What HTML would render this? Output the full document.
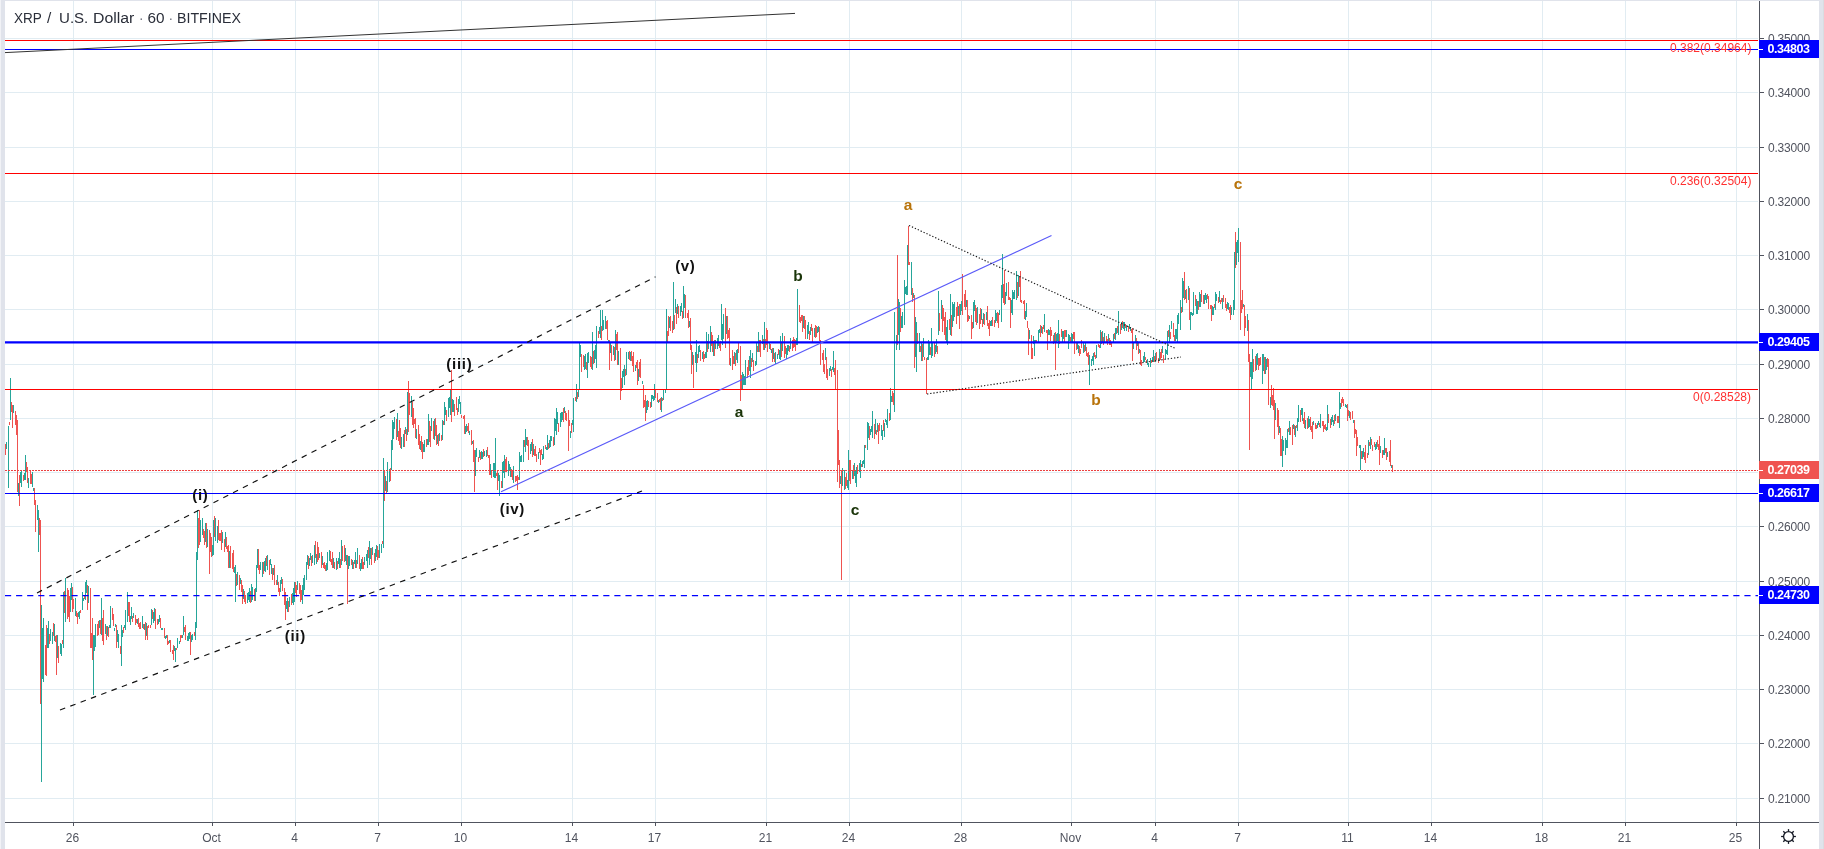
<!DOCTYPE html>
<html><head><meta charset="utf-8"><title>XRPUSD</title>
<style>
html,body{margin:0;padding:0;background:#fff;}
body{width:1824px;height:849px;overflow:hidden;position:relative;font-family:"Liberation Sans",sans-serif;}
#wrap{position:absolute;left:0;top:0;width:1824px;height:849px;overflow:hidden;background:#fff;}
svg{position:absolute;left:0;top:0;}
.bl{position:absolute;background:#e0e3eb;}
.title,.pl,.tl,.pb,.fl,.wl{will-change:transform;}
.title{position:absolute;left:0;top:8.7px;font-size:15.3px;line-height:18px;height:18px;width:300px;color:#2a2e39;white-space:nowrap;}
.title span{position:absolute;top:0;transform-origin:left center;}
.pl{position:absolute;margin-top:1px;left:1768px;width:50px;height:14px;line-height:14px;font-size:12px;color:#50535e;letter-spacing:-0.2px;white-space:nowrap;}
.tl{position:absolute;top:831px;width:61px;text-align:center;height:14px;line-height:14px;font-size:12px;color:#50535e;white-space:nowrap;}
.pb{position:absolute;left:1759px;width:60px;height:18px;line-height:18px;font-size:12.5px;font-weight:bold;color:#fff;box-sizing:border-box;padding-left:8.5px;letter-spacing:-0.45px;white-space:nowrap;}
.pb:before{content:"";position:absolute;left:0;top:8.5px;width:4px;height:1px;background:#fff;}
.fl{position:absolute;right:73px;font-size:12px;line-height:13px;color:#ff3030;white-space:nowrap;text-align:right;}
.wl{position:absolute;width:60px;height:20px;line-height:20px;text-align:center;font-size:15px;font-weight:bold;color:#111;white-space:nowrap;letter-spacing:0.7px;text-indent:0.7px;}
.wl.g{color:#1a3409;font-size:15.5px;letter-spacing:0;text-indent:0;}
.wl.o{color:#b8730a;font-size:15.5px;letter-spacing:0;text-indent:0;}
</style></head>
<body><div id="wrap">
<svg width="1824" height="849" viewBox="0 0 1824 849">
<g shape-rendering="crispEdges" stroke="#e1ecf2" stroke-width="1">
<line x1="73.5" y1="1" x2="73.5" y2="822"/><line x1="212.5" y1="1" x2="212.5" y2="822"/><line x1="295.5" y1="1" x2="295.5" y2="822"/><line x1="378.5" y1="1" x2="378.5" y2="822"/><line x1="461.5" y1="1" x2="461.5" y2="822"/><line x1="572.5" y1="1" x2="572.5" y2="822"/><line x1="655.5" y1="1" x2="655.5" y2="822"/><line x1="766.5" y1="1" x2="766.5" y2="822"/><line x1="849.5" y1="1" x2="849.5" y2="822"/><line x1="961.5" y1="1" x2="961.5" y2="822"/><line x1="1071.5" y1="1" x2="1071.5" y2="822"/><line x1="1155.5" y1="1" x2="1155.5" y2="822"/><line x1="1238.5" y1="1" x2="1238.5" y2="822"/><line x1="1348.5" y1="1" x2="1348.5" y2="822"/><line x1="1431.5" y1="1" x2="1431.5" y2="822"/><line x1="1542.5" y1="1" x2="1542.5" y2="822"/><line x1="1625.5" y1="1" x2="1625.5" y2="822"/><line x1="1736.5" y1="1" x2="1736.5" y2="822"/><line x1="5" y1="38.5" x2="1758" y2="38.5"/><line x1="5" y1="92.5" x2="1758" y2="92.5"/><line x1="5" y1="147.5" x2="1758" y2="147.5"/><line x1="5" y1="201.5" x2="1758" y2="201.5"/><line x1="5" y1="255.5" x2="1758" y2="255.5"/><line x1="5" y1="309.5" x2="1758" y2="309.5"/><line x1="5" y1="364.5" x2="1758" y2="364.5"/><line x1="5" y1="418.5" x2="1758" y2="418.5"/><line x1="5" y1="472.5" x2="1758" y2="472.5"/><line x1="5" y1="526.5" x2="1758" y2="526.5"/><line x1="5" y1="581.5" x2="1758" y2="581.5"/><line x1="5" y1="635.5" x2="1758" y2="635.5"/><line x1="5" y1="689.5" x2="1758" y2="689.5"/><line x1="5" y1="743.5" x2="1758" y2="743.5"/><line x1="5" y1="798.5" x2="1758" y2="798.5"/></g>
<g shape-rendering="crispEdges" fill="none" stroke-width="1">
<path d="M6.5 442V449M8.5 426V488M10.5 378V420M13.5 405V413M18.5 483V496M20.5 472V483M21.5 471V487M24.5 473V480M25.5 455V480M28.5 478V488M32.5 472V487M33.5 488V491M37.5 505V520M38.5 510V552M41.5 605V782M42.5 628V679M43.5 618V682M47.5 628V648M48.5 621V648M50.5 629V641M52.5 632V644M54.5 624V641M57.5 635V658M60.5 643V654M61.5 644V656M63.5 592V648M65.5 578V622M70.5 588V612M71.5 583V600M75.5 598V616M78.5 612V617M79.5 611V619M82.5 592V610M83.5 598V601M85.5 582V600M86.5 580V593M88.5 586V603M93.5 635V695M94.5 635V651M95.5 624V647M99.5 620V628M101.5 598V635M105.5 624V634M107.5 626V636M109.5 625V628M110.5 606V628M114.5 628V631M115.5 624V627M117.5 630V642M118.5 634V648M121.5 625V666M122.5 630V637M124.5 625V628M125.5 610V630M127.5 592V622M130.5 616V625M131.5 607V619M133.5 613V618M137.5 619V624M142.5 616V628M144.5 624V630M146.5 623V636M151.5 609V625M153.5 612V623M154.5 608V621M158.5 619V624M159.5 615V622M161.5 628V630M162.5 628V630M165.5 636V639M166.5 635V638M169.5 640V643M174.5 646V651M175.5 648V662M177.5 638V648M179.5 641V644M182.5 635V638M183.5 616V635M187.5 636V641M188.5 633V641M189.5 632V639M191.5 635V642M192.5 634V640M195.5 622V640M196.5 552V628M197.5 510V560M200.5 520V542M202.5 518V535M205.5 523V542M207.5 529V547M212.5 545V556M213.5 520V555M215.5 518V541M217.5 526V543M222.5 532V543M225.5 532V547M229.5 551V568M234.5 567V573M235.5 565V602M237.5 572V585M240.5 578V584M243.5 589V599M247.5 593V603M248.5 592V600M249.5 588V602M251.5 584V602M252.5 587V600M255.5 588V601M256.5 565V592M257.5 549V568M260.5 562V570M262.5 562V577M264.5 561V571M265.5 558V572M267.5 555V570M270.5 559V565M271.5 564V574M273.5 568V575M277.5 575V585M280.5 580V592M281.5 577V584M286.5 601V609M287.5 598V612M289.5 597V607M292.5 593V603M293.5 588V605M294.5 582V602M297.5 581V590M302.5 585V604M303.5 578V595M304.5 575V590M306.5 562V580M307.5 555V565M309.5 558V566M310.5 553V560M312.5 555V563M314.5 545V565M316.5 554V564M319.5 553V558M322.5 556V565M326.5 563V571M327.5 552V570M329.5 550V561M333.5 558V568M336.5 558V570M338.5 558V564M339.5 552V568M341.5 540V565M345.5 548V561M346.5 555V565M348.5 556V569M349.5 556V566M352.5 560V569M354.5 560V564M355.5 552V568M357.5 548V564M360.5 563V571M361.5 559V569M364.5 557V565M366.5 554V561M367.5 550V568M369.5 541V565M370.5 548V559M372.5 547V555M375.5 549V561M376.5 545V557M379.5 544V558M381.5 544V553M383.5 458V548M385.5 476V491M387.5 462V492M389.5 469V482M391.5 440V470M392.5 420V450M393.5 422V439M394.5 417V429M397.5 413V437M401.5 437V449M403.5 434V447M405.5 427V434M407.5 392V435M411.5 396V417M416.5 429V439M420.5 441V450M423.5 444V452M424.5 440V452M427.5 439V445M428.5 414V445M431.5 418V431M434.5 419V440M437.5 435V444M439.5 433V441M442.5 420V440M444.5 402V425M445.5 407V415M448.5 398V417M449.5 397V408M450.5 390V415M452.5 399V412M453.5 400V412M458.5 399V412M459.5 396V404M460.5 402V414M465.5 426V434M466.5 424V432M469.5 431V435M472.5 441V444M475.5 450V476M476.5 448V457M479.5 450V458M481.5 451V459M482.5 452V459M484.5 451V456M486.5 450V457M490.5 464V475M493.5 463V477M494.5 463V478M495.5 438V478M498.5 473V481M499.5 475V496M502.5 462V488M503.5 461V473M504.5 455V478M508.5 461V476M509.5 464V470M510.5 467V477M513.5 466V483M519.5 452V480M520.5 456V462M521.5 455V462M523.5 440V462M525.5 429V452M526.5 437V445M530.5 444V454M531.5 442V451M533.5 444V455M538.5 452V459M542.5 454V460M543.5 446V459M546.5 447V450M547.5 435V450M549.5 440V448M550.5 436V447M551.5 436V441M554.5 418V445M555.5 419V431M556.5 408V435M557.5 412V424M560.5 413V427M561.5 412V422M562.5 412V420M564.5 407V413M570.5 431V438M572.5 420V425M573.5 398V432M576.5 384V402M578.5 389V397M579.5 342V390M580.5 345V357M584.5 356V370M585.5 354V369M587.5 353V378M588.5 352V363M592.5 332V370M594.5 350V363M595.5 345V359M596.5 326V368M599.5 327V334M600.5 310V338M602.5 310V331M603.5 320V330M605.5 316V329M608.5 340V343M610.5 343V353M613.5 346V355M615.5 330V360M618.5 351V365M622.5 371V388M623.5 369V377M624.5 365V385M626.5 352V375M628.5 352V359M630.5 352V361M635.5 365V371M638.5 369V381M642.5 381V384M646.5 401V413M647.5 400V410M651.5 395V407M652.5 395V399M653.5 396V401M654.5 384V400M658.5 400V403M661.5 397V412M663.5 390V400M665.5 390V393M666.5 309V390M669.5 317V328M673.5 282V330M675.5 299V313M677.5 304V314M680.5 306V316M681.5 303V312M683.5 286V318M684.5 294V308M689.5 321V327M692.5 352V365M695.5 352V363M696.5 340V372M698.5 346V358M699.5 345V352M702.5 352V359M705.5 352V358M706.5 332V358M708.5 334V349M710.5 326V352M713.5 341V356M715.5 340V349M717.5 338V349M718.5 335V346M721.5 304V340M722.5 324V345M723.5 314V339M726.5 316V334M730.5 358V366M734.5 352V364M736.5 350V360M737.5 349V363M742.5 372V390M743.5 374V385M744.5 376V385M745.5 360V385M749.5 356V371M750.5 350V378M752.5 353V362M755.5 361V366M756.5 342V365M758.5 332V352M762.5 335V344M764.5 322V350M769.5 342V349M771.5 349V353M773.5 348V359M775.5 352V364M777.5 354V359M779.5 350V359M780.5 336V360M782.5 333V351M786.5 348V359M787.5 345V355M788.5 345V351M790.5 338V349M796.5 338V345M797.5 289V345M803.5 316V328M807.5 325V339M808.5 322V334M810.5 327V335M814.5 328V337M817.5 327V333M818.5 326V332M825.5 348V360M829.5 368V376M830.5 366V371M832.5 367V370M833.5 351V372M840.5 476V484M842.5 468V486M844.5 470V490M847.5 480V488M848.5 450V490M852.5 470V479M854.5 463V476M855.5 470V483M856.5 467V487M859.5 463V472M860.5 460V478M862.5 461V467M863.5 460V464M864.5 445V468M867.5 422V450M868.5 423V438M870.5 429V435M871.5 426V432M872.5 411V438M875.5 419V434M877.5 423V432M881.5 425V436M882.5 430V440M884.5 423V437M885.5 419V422M886.5 420V425M887.5 409V428M890.5 388V420M891.5 396V402M894.5 312V412M896.5 335V350M898.5 299V335M899.5 302V350M901.5 316V328M902.5 312V328M904.5 280V325M905.5 287V294M906.5 286V295M907.5 245V295M911.5 262V295M913.5 293V298M915.5 317V357M916.5 322V372M919.5 333V352M921.5 343V361M923.5 338V357M927.5 357V360M928.5 340V360M929.5 342V355M931.5 328V358M932.5 342V356M935.5 345V354M936.5 339V352M938.5 291V335M941.5 300V319M946.5 327V343M947.5 320V345M950.5 294V335M952.5 302V327M953.5 304V321M954.5 302V317M958.5 306V316M960.5 304V315M961.5 301V311M966.5 300V307M969.5 316V319M973.5 302V328M974.5 300V311M977.5 307V323M981.5 309V320M983.5 313V324M986.5 312V320M990.5 321V326M991.5 320V326M995.5 310V323M996.5 313V321M999.5 310V315M1001.5 285V322M1002.5 254V298M1005.5 292V304M1006.5 283V296M1011.5 300V313M1012.5 290V315M1013.5 292V299M1014.5 290V299M1016.5 271V300M1018.5 275V296M1025.5 311V320M1026.5 303V317M1029.5 330V339M1033.5 336V344M1034.5 340V356M1035.5 340V343M1038.5 330V342M1039.5 329V333M1041.5 326V333M1044.5 314V332M1048.5 329V335M1049.5 330V335M1054.5 333V342M1056.5 334V343M1057.5 333V341M1058.5 320V348M1062.5 331V342M1063.5 331V339M1066.5 330V337M1068.5 334V349M1069.5 335V341M1071.5 333V342M1072.5 334V342M1077.5 342V349M1078.5 345V353M1083.5 343V353M1085.5 343V351M1089.5 355V385M1091.5 359V366M1092.5 356V361M1093.5 353V365M1096.5 345V358M1100.5 330V348M1102.5 331V343M1104.5 333V342M1108.5 334V341M1113.5 334V343M1115.5 328V340M1116.5 328V334M1118.5 311V335M1121.5 322V330M1123.5 322V329M1124.5 322V331M1126.5 325V331M1129.5 324V329M1130.5 327V331M1133.5 343V349M1135.5 335V343M1137.5 341V346M1139.5 349V353M1143.5 356V362M1144.5 352V362M1147.5 359V365M1148.5 363V367M1150.5 358V367M1152.5 357V361M1153.5 350V362M1155.5 353V362M1159.5 349V361M1162.5 346V353M1165.5 349V359M1166.5 350V354M1167.5 331V355M1169.5 325V342M1171.5 321V329M1175.5 329V341M1176.5 329V339M1177.5 315V342M1178.5 313V324M1180.5 300V330M1182.5 278V312M1183.5 281V298M1185.5 290V299M1188.5 286V300M1190.5 312V330M1191.5 312V315M1192.5 313V316M1193.5 292V315M1196.5 299V314M1197.5 301V314M1199.5 292V307M1200.5 294V307M1204.5 295V304M1205.5 293V300M1206.5 295V303M1212.5 306V315M1213.5 307V315M1215.5 292V310M1216.5 294V301M1219.5 291V302M1222.5 298V309M1227.5 302V309M1228.5 303V310M1231.5 307V315M1233.5 300V315M1234.5 252V310M1236.5 242V265M1237.5 240V253M1238.5 228V262M1243.5 304V307M1247.5 314V331M1250.5 362V377M1251.5 362V390M1252.5 349V379M1256.5 354V370M1257.5 353V365M1262.5 354V384M1263.5 354V371M1265.5 357V374M1266.5 359V370M1270.5 397V408M1275.5 403V420M1279.5 426V433M1282.5 436V467M1283.5 440V451M1285.5 438V455M1286.5 440V448M1287.5 429V448M1289.5 421V435M1293.5 424V429M1295.5 426V437M1297.5 418V431M1298.5 405V422M1301.5 408V415M1302.5 408V421M1305.5 420V429M1308.5 416V428M1309.5 419V427M1313.5 421V425M1317.5 423V428M1318.5 421V425M1320.5 414V428M1326.5 427V431M1327.5 405V430M1331.5 417V425M1332.5 415V422M1333.5 420V426M1335.5 414V421M1339.5 392V428M1340.5 403V409M1345.5 404V407M1346.5 405V408M1349.5 411V418M1353.5 420V423M1359.5 445V448M1360.5 445V470M1362.5 451V459M1363.5 448V457M1368.5 440V455M1370.5 437V449M1375.5 444V450M1376.5 442V449M1380.5 446V453M1383.5 450V455M1384.5 438V455M1387.5 452V457M1391.5 465V468" stroke="#26a69a"/>
<path d="M5.5 444V455M9.5 422V425M11.5 402V412M12.5 405V428M15.5 411V425M16.5 415V435M17.5 420V492M19.5 475V506M23.5 475V481M26.5 462V472M27.5 467V483M30.5 471V484M31.5 474V484M34.5 488V505M35.5 500V532M39.5 518V535M40.5 520V704M45.5 645V675M46.5 625V676M49.5 634V644M53.5 623V636M55.5 636V642M56.5 635V675M58.5 646V663M62.5 640V644M64.5 591V613M67.5 588V619M68.5 590V617M69.5 596V622M72.5 587V612M73.5 599V609M76.5 611V617M77.5 613V624M80.5 610V613M84.5 595V599M87.5 585V610M90.5 588V648M91.5 633V648M92.5 618V660M97.5 624V636M98.5 621V635M100.5 620V634M102.5 618V641M103.5 610V645M106.5 626V640M108.5 627V637M112.5 608V620M113.5 614V626M116.5 625V648M120.5 646V654M123.5 627V633M128.5 602V616M129.5 602V622M132.5 616V622M135.5 615V625M136.5 619V623M138.5 618V627M139.5 623V629M140.5 622V629M143.5 624V629M145.5 622V640M147.5 626V640M148.5 625V628M150.5 625V628M152.5 610V619M155.5 609V629M157.5 619V625M160.5 618V628M164.5 628V638M167.5 635V645M168.5 641V644M170.5 640V652M172.5 650V654M173.5 645V660M176.5 648V650M180.5 635V642M181.5 635V638M184.5 627V632M185.5 625V640M190.5 632V655M194.5 632V636M198.5 518V548M199.5 510V545M203.5 529V538M204.5 531V545M206.5 523V548M209.5 530V574M210.5 533V552M211.5 537V557M214.5 516V537M218.5 520V540M219.5 533V541M220.5 533V541M221.5 530V550M224.5 539V552M226.5 537V549M227.5 546V552M228.5 545V568M230.5 546V568M232.5 553V569M233.5 550V572M236.5 574V586M239.5 575V590M241.5 580V592M242.5 585V604M244.5 591V602M245.5 595V604M250.5 591V603M254.5 589V601M258.5 549V570M259.5 565V574M263.5 562V574M266.5 556V566M269.5 560V575M272.5 568V580M274.5 565V585M276.5 580V585M278.5 582V592M279.5 588V596M282.5 579V591M284.5 588V605M285.5 592V620M288.5 601V612M291.5 594V605M295.5 582V593M296.5 585V597M299.5 583V594M300.5 585V602M301.5 590V600M308.5 556V569M311.5 556V566M315.5 541V558M317.5 542V562M318.5 547V560M321.5 552V568M323.5 563V568M324.5 562V569M325.5 565V571M330.5 551V562M331.5 559V565M332.5 552V568M334.5 562V569M337.5 561V569M340.5 559V568M342.5 546V561M344.5 545V562M347.5 555V604M351.5 559V565M353.5 562V569M356.5 560V568M359.5 555V569M362.5 557V569M363.5 562V569M368.5 547V558M371.5 548V565M374.5 553V563M377.5 546V560M378.5 550V558M382.5 541V544M384.5 470V501M386.5 481V494M390.5 468V481M396.5 419V440M398.5 431V441M399.5 420V445M400.5 428V448M404.5 430V447M406.5 429V441M408.5 381V432M409.5 393V415M412.5 402V425M413.5 408V428M414.5 419V424M415.5 418V438M418.5 425V445M419.5 434V449M421.5 436V452M422.5 442V459M426.5 439V447M429.5 421V442M430.5 426V447M433.5 421V439M435.5 418V436M436.5 425V445M438.5 434V446M441.5 435V441M443.5 421V425M446.5 410V421M451.5 370V422M454.5 404V416M456.5 397V410M457.5 408V415M461.5 415V418M463.5 416V419M464.5 415V434M467.5 426V431M468.5 423V433M471.5 430V445M473.5 440V462M474.5 450V492M478.5 457V462M480.5 452V460M483.5 449V457M487.5 447V456M488.5 455V458M489.5 455V475M491.5 470V478M496.5 473V476M497.5 470V490M501.5 481V488M505.5 459V472M506.5 457V472M511.5 469V477M512.5 470V480M515.5 476V482M516.5 476V481M517.5 475V490M518.5 477V480M524.5 440V447M527.5 437V446M528.5 440V460M532.5 439V457M534.5 449V456M535.5 446V456M536.5 454V462M539.5 448V453M540.5 450V465M541.5 449V455M545.5 445V449M548.5 443V449M553.5 437V446M558.5 423V432M563.5 408V422M565.5 411V420M566.5 413V421M568.5 410V451M569.5 420V426M571.5 423V433M575.5 397V401M577.5 392V399M581.5 354V372M583.5 355V367M586.5 362V370M590.5 356V367M591.5 357V369M593.5 351V364M598.5 331V338M601.5 326V340M606.5 321V329M607.5 320V340M609.5 340V370M611.5 345V361M614.5 347V361M616.5 334V350M617.5 332V365M620.5 348V400M621.5 378V391M625.5 369V376M629.5 351V360M631.5 351V361M632.5 356V366M633.5 352V372M636.5 362V368M637.5 360V385M639.5 362V377M640.5 359V378M643.5 385V408M644.5 400V407M645.5 395V421M648.5 401V407M650.5 402V408M655.5 390V398M657.5 393V402M659.5 399V402M660.5 398V410M662.5 398V401M667.5 331V343M668.5 316V336M670.5 316V331M672.5 321V333M674.5 315V329M676.5 307V324M678.5 306V318M682.5 311V319M685.5 295V318M687.5 313V318M688.5 310V328M690.5 318V350M691.5 345V374M693.5 355V388M697.5 354V363M700.5 350V361M703.5 351V362M704.5 354V359M707.5 341V352M711.5 332V346M712.5 335V352M714.5 340V356M719.5 342V348M720.5 341V351M725.5 308V348M727.5 316V339M728.5 330V338M729.5 328V365M732.5 350V370M733.5 356V364M735.5 353V366M738.5 342V353M740.5 346V401M741.5 375V390M747.5 367V378M748.5 360V375M751.5 358V367M753.5 360V371M757.5 346V352M759.5 340V352M760.5 340V357M763.5 339V350M765.5 339V348M766.5 328V345M767.5 330V352M770.5 344V350M772.5 348V362M774.5 353V362M778.5 349V355M781.5 342V357M784.5 336V358M785.5 346V354M789.5 346V352M792.5 340V351M793.5 337V348M794.5 339V347M795.5 340V351M799.5 305V322M800.5 317V323M801.5 315V321M802.5 315V332M804.5 316V329M805.5 320V339M809.5 331V340M811.5 324V331M812.5 328V342M815.5 325V338M816.5 326V337M819.5 327V341M820.5 340V365M822.5 353V360M823.5 350V372M824.5 364V374M826.5 357V378M827.5 369V380M831.5 369V377M834.5 368V375M835.5 360V390M837.5 370V482M838.5 430V465M839.5 460V488M841.5 470V580M845.5 477V489M846.5 473V486M849.5 460V481M850.5 460V484M853.5 465V479M857.5 465V474M861.5 464V467M865.5 445V448M869.5 426V440M874.5 424V439M876.5 430V435M878.5 425V444M879.5 423V431M883.5 420V431M889.5 413V421M892.5 391V402M893.5 393V405M897.5 255V345M900.5 308V332M908.5 226V265M909.5 262V265M912.5 288V302M914.5 295V368M917.5 333V344M920.5 346V352M922.5 344V361M924.5 357V360M926.5 358V394M930.5 347V355M934.5 342V357M937.5 346V354M939.5 313V331M942.5 305V332M943.5 308V321M944.5 317V335M945.5 312V340M949.5 319V330M951.5 315V336M956.5 307V324M957.5 302V316M959.5 304V329M962.5 274V315M964.5 294V307M965.5 290V310M967.5 300V322M968.5 315V321M971.5 315V339M972.5 322V329M975.5 305V322M976.5 308V325M979.5 314V329M980.5 308V324M982.5 319V327M984.5 314V325M987.5 306V326M988.5 323V329M989.5 320V336M992.5 317V326M994.5 320V327M997.5 312V323M998.5 313V328M1003.5 284V303M1004.5 270V305M1008.5 282V300M1009.5 297V300M1010.5 298V328M1017.5 282V298M1019.5 276V287M1020.5 271V302M1021.5 300V303M1023.5 301V304M1024.5 300V319M1027.5 321V328M1028.5 328V355M1031.5 335V359M1032.5 348V359M1036.5 340V343M1040.5 325V337M1042.5 327V334M1043.5 325V329M1046.5 330V333M1047.5 330V350M1050.5 327V341M1051.5 330V336M1053.5 335V344M1055.5 332V370M1059.5 334V344M1061.5 329V337M1064.5 330V342M1065.5 330V337M1070.5 337V343M1073.5 332V339M1074.5 332V354M1076.5 342V350M1079.5 346V356M1080.5 349V354M1081.5 340V348M1084.5 345V352M1086.5 347V356M1087.5 353V357M1088.5 352V365M1094.5 352V357M1095.5 355V359M1098.5 344V347M1099.5 345V348M1101.5 332V344M1103.5 337V345M1106.5 336V343M1107.5 339V345M1109.5 338V345M1110.5 340V345M1111.5 342V347M1114.5 333V339M1117.5 326V333M1120.5 324V334M1122.5 321V328M1125.5 324V328M1128.5 326V332M1131.5 329V333M1132.5 328V361M1136.5 338V350M1138.5 343V354M1140.5 350V365M1141.5 360V366M1145.5 357V360M1146.5 360V363M1151.5 360V363M1154.5 356V362M1156.5 352V360M1158.5 358V363M1160.5 352V360M1161.5 349V358M1163.5 355V363M1168.5 330V337M1170.5 332V339M1173.5 323V337M1174.5 335V341M1181.5 307V313M1184.5 272V300M1186.5 289V303M1189.5 288V320M1195.5 295V306M1198.5 301V310M1201.5 290V302M1203.5 295V304M1207.5 294V299M1208.5 296V309M1210.5 305V309M1211.5 305V321M1214.5 304V308M1218.5 297V303M1220.5 300V304M1221.5 298V302M1223.5 295V302M1225.5 298V308M1226.5 304V311M1229.5 307V313M1230.5 305V320M1235.5 232V268M1240.5 242V330M1241.5 300V313M1242.5 290V309M1244.5 305V336M1245.5 316V328M1248.5 320V362M1249.5 354V450M1253.5 359V372M1255.5 356V371M1258.5 358V370M1259.5 358V366M1260.5 357V365M1264.5 357V374M1267.5 358V367M1268.5 359V405M1271.5 385V405M1272.5 395V406M1273.5 388V410M1274.5 400V439M1277.5 408V427M1278.5 410V435M1280.5 428V456M1281.5 439V456M1288.5 428V432M1290.5 427V435M1292.5 425V445M1294.5 425V435M1296.5 425V428M1300.5 410V422M1303.5 418V424M1304.5 412V428M1307.5 418V429M1310.5 417V430M1311.5 426V432M1312.5 422V439M1315.5 423V429M1316.5 425V429M1319.5 423V427M1322.5 421V426M1323.5 421V432M1324.5 425V429M1325.5 424V430M1328.5 414V423M1330.5 419V428M1334.5 415V424M1337.5 416V423M1338.5 416V423M1341.5 399V407M1342.5 397V403M1343.5 399V406M1347.5 404V421M1348.5 410V416M1350.5 412V420M1352.5 411V419M1354.5 420V438M1355.5 429V434M1356.5 430V456M1357.5 437V446M1361.5 451V459M1364.5 452V460M1365.5 445V463M1367.5 453V458M1369.5 442V446M1371.5 439V445M1372.5 445V451M1374.5 442V447M1377.5 440V447M1378.5 444V450M1379.5 436V465M1382.5 450V458M1385.5 448V453M1386.5 448V460M1389.5 451V462M1390.5 440V466M1392.5 465V472" stroke="#ef5350"/>
</g>
<g shape-rendering="crispEdges">
<line x1="5" y1="40.5" x2="1758" y2="40.5" stroke="#ff0000" stroke-width="1"/><line x1="5" y1="173.5" x2="1758" y2="173.5" stroke="#ff0000" stroke-width="1"/><line x1="5" y1="389.5" x2="1758" y2="389.5" stroke="#ff0000" stroke-width="1"/><line x1="5" y1="49.5" x2="1758" y2="49.5" stroke="#0000ff" stroke-width="1"/><line x1="5" y1="493.5" x2="1758" y2="493.5" stroke="#0000ff" stroke-width="1"/></g>
<line x1="5" y1="342.35" x2="1758" y2="342.35" stroke="#0000ff" stroke-width="2.1"/>
<line x1="5" y1="595.5" x2="1758" y2="595.5" stroke="#0000ff" stroke-width="1.25" stroke-dasharray="6.16 4.919"/>
<line x1="5" y1="470.5" x2="1758" y2="470.5" stroke="#eb4040" stroke-width="1" stroke-dasharray="2 1" shape-rendering="crispEdges"/>
<line x1="5" y1="52.6" x2="795" y2="13.4" stroke="#333" stroke-width="1"/>
<line x1="37" y1="592.9" x2="655.5" y2="276.8" stroke="#111" stroke-width="1.15" stroke-dasharray="5.55 5.46"/>
<line x1="60" y1="710" x2="642" y2="491" stroke="#111" stroke-width="1.15" stroke-dasharray="5.55 5.46"/>
<line x1="501" y1="491.8" x2="1051.5" y2="235.6" stroke="#5a5af8" stroke-width="1.15"/>
<line x1="909" y1="225.5" x2="1175.5" y2="348.5" stroke="#1a1a1a" stroke-width="1.15" stroke-dasharray="1.3 1.9"/>
<line x1="927" y1="394" x2="1181" y2="357" stroke="#1a1a1a" stroke-width="1.15" stroke-dasharray="1.3 1.9"/>
<g shape-rendering="crispEdges" stroke="#50535e" stroke-width="1">
<line x1="1759.5" y1="1" x2="1759.5" y2="849"/><line x1="5" y1="822.5" x2="1819" y2="822.5"/><line x1="73.5" y1="823" x2="73.5" y2="826"/><line x1="212.5" y1="823" x2="212.5" y2="826"/><line x1="295.5" y1="823" x2="295.5" y2="826"/><line x1="378.5" y1="823" x2="378.5" y2="826"/><line x1="461.5" y1="823" x2="461.5" y2="826"/><line x1="572.5" y1="823" x2="572.5" y2="826"/><line x1="655.5" y1="823" x2="655.5" y2="826"/><line x1="766.5" y1="823" x2="766.5" y2="826"/><line x1="849.5" y1="823" x2="849.5" y2="826"/><line x1="961.5" y1="823" x2="961.5" y2="826"/><line x1="1071.5" y1="823" x2="1071.5" y2="826"/><line x1="1155.5" y1="823" x2="1155.5" y2="826"/><line x1="1238.5" y1="823" x2="1238.5" y2="826"/><line x1="1348.5" y1="823" x2="1348.5" y2="826"/><line x1="1431.5" y1="823" x2="1431.5" y2="826"/><line x1="1542.5" y1="823" x2="1542.5" y2="826"/><line x1="1625.5" y1="823" x2="1625.5" y2="826"/><line x1="1736.5" y1="823" x2="1736.5" y2="826"/><line x1="1760" y1="38.5" x2="1764" y2="38.5"/><line x1="1760" y1="92.5" x2="1764" y2="92.5"/><line x1="1760" y1="147.5" x2="1764" y2="147.5"/><line x1="1760" y1="201.5" x2="1764" y2="201.5"/><line x1="1760" y1="255.5" x2="1764" y2="255.5"/><line x1="1760" y1="309.5" x2="1764" y2="309.5"/><line x1="1760" y1="364.5" x2="1764" y2="364.5"/><line x1="1760" y1="418.5" x2="1764" y2="418.5"/><line x1="1760" y1="472.5" x2="1764" y2="472.5"/><line x1="1760" y1="526.5" x2="1764" y2="526.5"/><line x1="1760" y1="581.5" x2="1764" y2="581.5"/><line x1="1760" y1="635.5" x2="1764" y2="635.5"/><line x1="1760" y1="689.5" x2="1764" y2="689.5"/><line x1="1760" y1="743.5" x2="1764" y2="743.5"/><line x1="1760" y1="798.5" x2="1764" y2="798.5"/></g>
<g stroke="#131722" stroke-width="1.3" fill="none"><circle cx="1788.5" cy="836.5" r="4.9"/><line x1="1793.70" y1="836.50" x2="1795.90" y2="836.50"/><line x1="1792.18" y1="840.18" x2="1793.73" y2="841.73"/><line x1="1788.50" y1="841.70" x2="1788.50" y2="843.90"/><line x1="1784.82" y1="840.18" x2="1783.27" y2="841.73"/><line x1="1783.30" y1="836.50" x2="1781.10" y2="836.50"/><line x1="1784.82" y1="832.82" x2="1783.27" y2="831.27"/><line x1="1788.50" y1="831.30" x2="1788.50" y2="829.10"/><line x1="1792.18" y1="832.82" x2="1793.73" y2="831.27"/></g>
</svg>
<div class="bl" style="left:0;top:0;width:5px;height:849px"></div>
<div class="bl" style="left:1819px;top:0;width:5px;height:849px"></div>
<div class="bl" style="left:0;top:0;width:1824px;height:1px"></div>
<div class="bl" style="left:0;top:0;width:1px;height:849px;background:#f1f2f6"></div>
<div class="bl" style="left:1823px;top:0;width:1px;height:849px;background:#d9dce1"></div>
<div class="title"><span style="left:13.8px;transform:scaleX(0.885)">XRP</span><span style="left:47.1px;transform:scaleX(1.000)">/</span><span style="left:58.5px;transform:scaleX(0.985)">U.S.</span><span style="left:93.0px;transform:scaleX(1.035)">Dollar</span><span style="left:138.8px;transform:scaleX(1.000);color:#787b86">&middot;</span><span style="left:147.5px;transform:scaleX(1.000)">60</span><span style="left:168.2px;transform:scaleX(1.000);color:#787b86">&middot;</span><span style="left:176.6px;transform:scaleX(0.928)">BITFINEX</span></div>
<div class="pl" style="top:31px">0.35000</div>
<div class="pl" style="top:85px">0.34000</div>
<div class="pl" style="top:140px">0.33000</div>
<div class="pl" style="top:194px">0.32000</div>
<div class="pl" style="top:248px">0.31000</div>
<div class="pl" style="top:302px">0.30000</div>
<div class="pl" style="top:357px">0.29000</div>
<div class="pl" style="top:411px">0.28000</div>
<div class="pl" style="top:465px">0.27000</div>
<div class="pl" style="top:519px">0.26000</div>
<div class="pl" style="top:574px">0.25000</div>
<div class="pl" style="top:628px">0.24000</div>
<div class="pl" style="top:682px">0.23000</div>
<div class="pl" style="top:736px">0.22000</div>
<div class="pl" style="top:791px">0.21000</div>
<div class="tl" style="left:42.3px">26</div>
<div class="tl" style="left:181.3px">Oct</div>
<div class="tl" style="left:264.3px">4</div>
<div class="tl" style="left:347.3px">7</div>
<div class="tl" style="left:430.3px">10</div>
<div class="tl" style="left:541.3px">14</div>
<div class="tl" style="left:624.3px">17</div>
<div class="tl" style="left:735.3px">21</div>
<div class="tl" style="left:818.3px">24</div>
<div class="tl" style="left:930.3px">28</div>
<div class="tl" style="left:1040.3px">Nov</div>
<div class="tl" style="left:1124.3px">4</div>
<div class="tl" style="left:1207.3px">7</div>
<div class="tl" style="left:1317.3px">11</div>
<div class="tl" style="left:1400.3px">14</div>
<div class="tl" style="left:1511.3px">18</div>
<div class="tl" style="left:1594.3px">21</div>
<div class="tl" style="left:1705.3px">25</div>
<div class="pb" style="top:40px;background:#0000ff">0.34803</div>
<div class="pb" style="top:333px;background:#0000ff">0.29405</div>
<div class="pb" style="top:461px;background:#ef5350">0.27039</div>
<div class="pb" style="top:484px;background:#0000ff">0.26617</div>
<div class="pb" style="top:586px;background:#0000ff">0.24730</div>
<div class="fl" style="top:42px">0.382(0.34964)</div>
<div class="fl" style="top:175px">0.236(0.32504)</div>
<div class="fl" style="top:391px">0(0.28528)</div>
<div class="wl" style="left:170.3px;top:485.0px">(i)</div>
<div class="wl" style="left:264.5px;top:626.0px">(ii)</div>
<div class="wl" style="left:429.2px;top:354.0px">(iii)</div>
<div class="wl" style="left:482.0px;top:498.5px">(iv)</div>
<div class="wl" style="left:655.0px;top:255.5px">(v)</div>
<div class="wl g" style="left:708.8px;top:402.0px">a</div>
<div class="wl g" style="left:768.0px;top:265.7px">b</div>
<div class="wl g" style="left:825.4px;top:500.3px">c</div>
<div class="wl o" style="left:878.0px;top:194.7px">a</div>
<div class="wl o" style="left:1066.0px;top:389.8px">b</div>
<div class="wl o" style="left:1208.0px;top:173.5px">c</div>
</div></body></html>
